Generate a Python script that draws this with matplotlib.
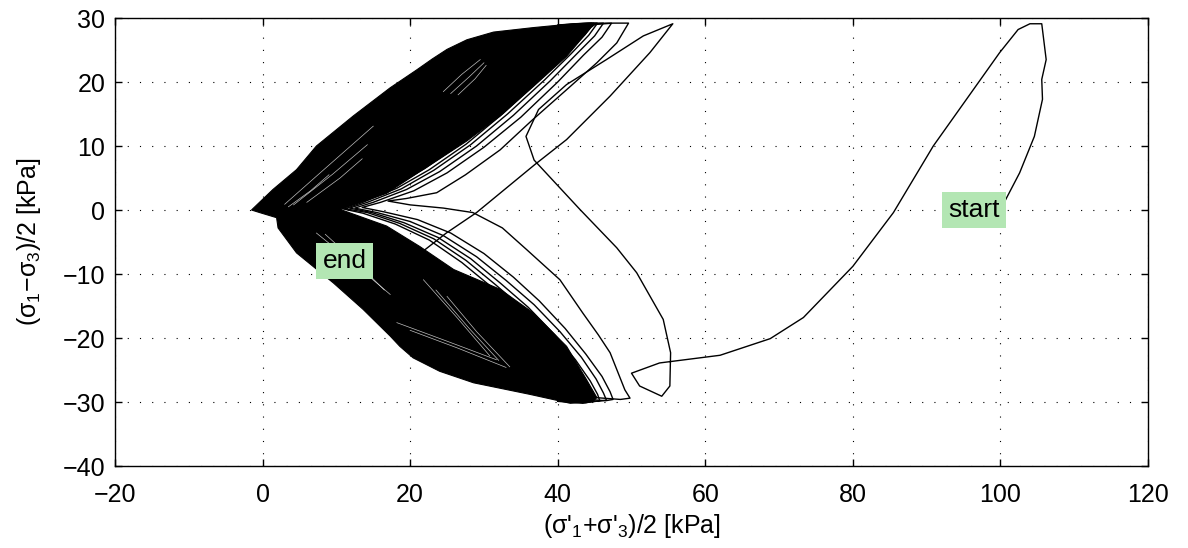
import matplotlib
matplotlib.use("Agg")
import matplotlib.pyplot as plt

plt.rcParams['font.family'] = ['Liberation Sans', 'DejaVu Sans']
plt.rcParams['mathtext.fontset'] = 'custom'
plt.rcParams['mathtext.rm'] = 'Liberation Sans'
plt.rcParams['mathtext.it'] = 'Liberation Sans:italic'
plt.rcParams['mathtext.default'] = 'regular'

# ---- data ----
# first (distinct) loading path from "start"
path0_x = [100.0, 100.7, 102.6, 104.6, 105.7, 105.6, 106.2, 105.6, 104.0, 102.4, 99.9, 95.4, 90.9, 85.5,
           80.0, 73.3, 68.8, 62.0, 53.8, 50.0, 51.1, 54.1, 55.2, 55.3, 54.3, 50.7, 48.0, 43.0, 36.8,
           35.7, 37.4, 41.2, 46.6, 51.6, 55.6, 52.5, 47.1, 41.2, 36.9, 29.0, 24.9, 20.9, 18.5]
path0_y = [0.0, 1.6, 5.8, 11.5, 17.3, 20.4, 23.5, 29.1, 29.1, 28.2, 24.6, 17.3, 10.0, -0.4,
           -8.8, -16.8, -20.1, -22.7, -23.9, -25.5, -27.5, -29.1, -27.5, -22.3, -17.1, -9.8, -5.9, 0.1, 7.8,
           11.5, 15.7, 19.6, 23.5, 27.2, 29.1, 24.6, 17.8, 11.0, 7.1, -0.4, -3.6, -7.2, -9.0]

# outer distinct cycles (compression peak -> V tip -> extension peak)
cyc3_x = [38.0, 43.0, 47.5, 49.6, 48.0, 45.3, 41.7, 36.5, 32.2, 27.5, 23.6, 19.5, 17.0, 20.0, 24.5,
          28.5, 32.5, 35.8, 40.3, 43.4, 45.5, 47.1, 49.1, 49.8, 48.5, 45.0]
cyc3_y = [27.8, 28.8, 29.2, 29.2, 26.1, 23.0, 19.3, 14.0, 9.4, 5.5, 2.7, 1.8, 1.4, 0.8, 0.3,
          -0.4, -2.8, -6.2, -10.9, -16.1, -19.5, -22.3, -28.1, -29.4, -29.6, -29.3]
cyc4_x = [40.0, 44.0, 46.5, 47.3, 46.0, 43.5, 40.0, 35.0, 30.0, 25.0, 20.5, 16.0, 13.5, 16.5, 21.0,
          25.5, 30.0, 34.0, 37.5, 41.0, 43.8, 46.0, 47.1, 47.5, 46.5, 43.0]
cyc4_y = [28.6, 29.0, 29.2, 29.2, 27.0, 24.2, 20.0, 14.5, 9.8, 5.8, 3.0, 1.2, 0.4, -0.3, -1.5,
          -3.6, -6.8, -10.5, -14.2, -18.5, -22.5, -26.0, -28.4, -29.6, -29.8, -29.5]
cyc5_x = [40.0, 43.5, 45.6, 46.2, 45.0, 42.5, 39.0, 34.0, 29.0, 24.0, 19.5, 15.0, 12.5, 15.5, 20.0,
          24.5, 29.0, 33.0, 36.8, 40.3, 43.2, 45.2, 46.2, 46.6, 45.5, 42.0]
cyc5_y = [28.7, 29.0, 29.2, 29.2, 27.2, 24.3, 20.2, 14.8, 10.0, 6.0, 3.2, 1.2, 0.3, -0.4, -1.8,
          -4.0, -7.3, -11.0, -14.8, -19.0, -23.0, -26.4, -28.6, -29.7, -29.9, -29.6]
cyc6_x = [40.0, 43.0, 44.9, 45.4, 44.2, 41.8, 38.2, 33.2, 28.2, 23.2, 18.8, 14.2, 11.8, 14.8, 19.2,
          23.8, 28.2, 32.2, 36.0, 39.6, 42.4, 44.4, 45.4, 45.7, 44.6, 41.0]
cyc6_y = [28.8, 29.1, 29.2, 29.2, 27.3, 24.4, 20.3, 15.0, 10.2, 6.2, 3.3, 1.2, 0.3, -0.4, -2.0,
          -4.3, -7.6, -11.4, -15.2, -19.5, -23.4, -26.7, -28.8, -29.8, -30.0, -29.7]
cyc7_x = [40.0, 42.6, 44.4, 44.9, 43.7, 41.2, 37.6, 32.6, 27.6, 22.6, 18.2, 13.6, 11.2, 14.2, 18.6,
          23.2, 27.6, 31.6, 35.4, 39.0, 41.8, 43.7, 44.5, 44.8, 43.8, 40.0]
cyc7_y = [28.8, 29.1, 29.2, 29.2, 27.4, 24.5, 20.4, 15.1, 10.3, 6.3, 3.4, 1.2, 0.2, -0.4, -2.1,
          -4.5, -7.9, -11.7, -15.5, -19.8, -23.7, -26.9, -28.9, -29.9, -30.1, -29.8]
cyc8_x = [40.0, 42.3, 44.1, 44.6, 43.3, 40.8, 37.1, 32.0, 27.0, 22.0, 17.6, 13.0, 10.8, 13.6, 18.0,
          22.6, 27.0, 31.0, 34.8, 38.4, 41.2, 43.2, 44.1, 44.4, 43.4, 40.0]
cyc8_y = [28.9, 29.1, 29.2, 29.2, 27.4, 24.6, 20.6, 15.3, 10.5, 6.5, 3.5, 1.2, 0.2, -0.5, -2.2,
          -4.7, -8.2, -12.0, -15.8, -20.1, -24.0, -27.1, -29.0, -30.0, -30.2, -29.9]

# outline of the densely overwritten (solid black) region of later cycles
dense_x = [-1.5, 1.4, 4.6, 7.3, 12.3, 17.3, 20.9, 23.0, 25.0, 27.7, 31.3, 36.7, 41.2, 45.3,
           44.5, 41.2, 36.7, 32.2, 27.7, 24.0, 21.3, 16.8, 10.5,
           16.8, 21.3, 25.9, 32.2, 36.7, 41.2, 43.9, 45.3,
           44.8, 41.7, 36.2, 28.6, 24.0, 20.4, 18.6, 17.3, 13.6, 9.6, 4.6, 2.1, 1.9, -0.4]
dense_y = [0.0, 3.2, 6.3, 10.0, 14.7, 19.1, 21.9, 23.6, 25.1, 26.6, 27.8, 28.5, 29.0, 29.2,
           28.5, 24.0, 19.3, 14.7, 10.8, 8.0, 6.0, 2.6, 0.1,
           -2.5, -5.7, -9.3, -12.4, -16.1, -21.3, -26.5, -29.3,
           -29.9, -30.2, -28.8, -27.0, -25.2, -23.1, -21.3, -19.7, -15.5, -11.4, -6.7, -2.8, -1.2, -0.4]

# thin uncovered gaps inside the dense region
gap_lines = [
    ([3.0, 8.0, 15.0], [0.9, 6.0, 13.1]),
    ([4.2, 9.5, 14.2], [0.8, 5.6, 10.2]),
    ([6.0, 10.5, 13.5], [1.2, 5.0, 8.0]),
    ([3.5, 6.5, 9.0], [0.5, 3.0, 5.5]),
    ([7.3, 12.0, 17.3], [-3.6, -8.0, -13.2]),
    ([8.5, 13.0, 16.5], [-3.8, -8.5, -12.5]),
    ([21.8, 26.5, 30.8], [-10.9, -17.0, -22.8]),
    ([23.5, 28.0, 32.0], [-12.5, -18.5, -23.5]),
    ([25.0, 29.0, 33.5], [-13.5, -19.0, -24.5]),
    ([18.2, 25.0, 31.7], [-17.6, -20.5, -23.4]),
    ([20.0, 26.5, 33.0], [-18.8, -21.6, -24.6]),
    ([24.5, 27.0, 29.5], [18.5, 21.2, 23.5]),
    ([25.5, 28.0, 30.0], [18.2, 20.8, 23.0]),
    ([26.5, 28.8, 30.3], [18.0, 20.5, 22.6]),
]

labels = ["start", "end"]
label_x = [96.4, 11.1]
label_y = [0.0, -8.0]

xticks = [-20, 0, 20, 40, 60, 80, 100, 120]
yticks = [-40, -30, -20, -10, 0, 10, 20, 30]

# ---- figure ----
fig = plt.figure(figsize=(11.88, 5.48), dpi=100)
ax = fig.add_axes([115 / 1188, 82 / 548, 1033 / 1188, 448 / 548])

ax.fill(dense_x, dense_y, color='black', lw=0.8, zorder=2)
for gx, gy in gap_lines:
    ax.plot(gx, gy, color='white', lw=0.5, alpha=0.75, zorder=3)

for cx, cy in [(cyc3_x, cyc3_y), (cyc4_x, cyc4_y), (cyc5_x, cyc5_y),
               (cyc6_x, cyc6_y), (cyc7_x, cyc7_y), (cyc8_x, cyc8_y)]:
    ax.plot(cx, cy, color='black', lw=1.0, zorder=4)
ax.plot(path0_x, path0_y, color='black', lw=1.0, zorder=4)

box = dict(boxstyle='square,pad=0.23', facecolor='#b3e6b3', edgecolor='none')
for t, lx, ly in zip(labels, label_x, label_y):
    ax.text(lx, ly, t, fontsize=19, ha='center', va='center', bbox=box, zorder=6)

ax.set_xlim(-20, 120)
ax.set_ylim(-40, 30)
ax.set_xticks(xticks)
ax.set_yticks(yticks)
ax.set_xticklabels([str(v).replace('-', '\u2212') for v in xticks])
ax.set_yticklabels([str(v).replace('-', '\u2212') for v in yticks])
ax.grid(True, color='black', linestyle=(0, (1, 10)), linewidth=0.8)
ax.set_axisbelow(True)
ax.tick_params(direction='in', length=5, width=1, top=True, right=True, labelsize=18)
ax.tick_params(axis='x', pad=12)
ax.tick_params(axis='y', pad=7)
for s in ax.spines.values():
    s.set_linewidth(1.0)

ax.set_xlabel("(σ'$_1$+σ'$_3$)/2 [kPa]", fontsize=18, labelpad=4)
ax.set_ylabel("(σ$_1$\u2212σ$_3$)/2 [kPa]", fontsize=18, labelpad=14)

fig.savefig("out.png", dpi=100)
